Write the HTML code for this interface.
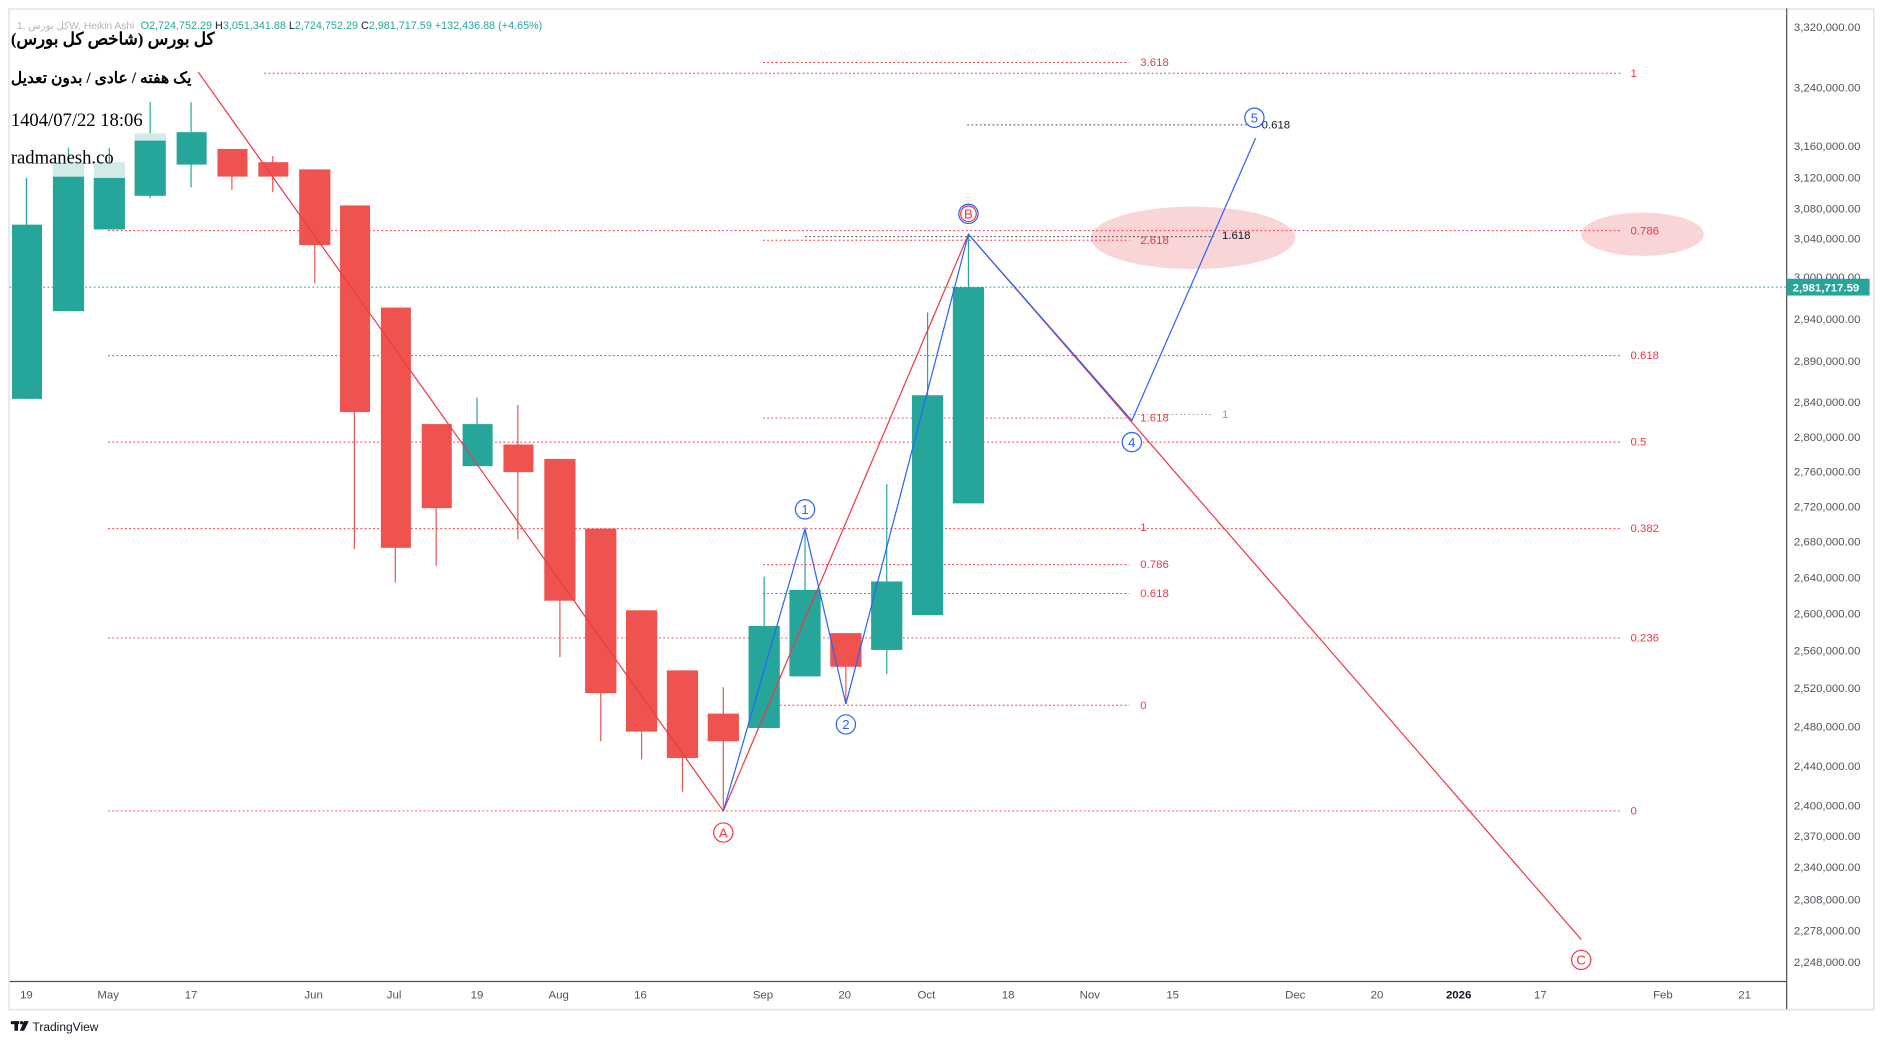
<!DOCTYPE html>
<html><head><meta charset="utf-8"><style>
html,body{margin:0;padding:0;background:#fff;width:1884px;height:1044px;overflow:hidden}
svg{display:block}
</style></head><body>
<svg width="1884" height="1044" viewBox="0 0 1568 869" preserveAspectRatio="none" xmlns="http://www.w3.org/2000/svg" font-family="Liberation Sans, DejaVu Sans, sans-serif">
<rect x="0" y="0" width="1568" height="869" fill="#fff"/>
<rect x="7.5" y="7.5" width="1552" height="833" fill="none" stroke="#e6e8ee" stroke-width="1.5"/>
<line x1="1487" y1="7" x2="1487" y2="840" stroke="#4a4e5a" stroke-width="1"/>
<line x1="8" y1="817" x2="1487" y2="817" stroke="#4a4e5a" stroke-width="1"/>

<ellipse cx="993" cy="198" rx="85" ry="26" fill="#f7c3c8" opacity="0.7"/>
<ellipse cx="1367" cy="195" rx="51" ry="18" fill="#f7c3c8" opacity="0.7"/>

<g stroke-dasharray="1.5,2" stroke-width="0.8" fill="none">
<line x1="220" y1="61" x2="1350" y2="61" stroke="#f23645"/>
<line x1="635" y1="52" x2="940" y2="52" stroke="#f23645"/>
<line x1="90" y1="192" x2="1350" y2="192" stroke="#f23645"/>
<line x1="635" y1="200" x2="940" y2="200" stroke="#f23645"/>
<line x1="670" y1="197" x2="1010" y2="197" stroke="#333"/>
<line x1="805" y1="104" x2="1045" y2="104" stroke="#333"/>
<line x1="8" y1="239" x2="1487" y2="239" stroke="#22a08e"/>
<line x1="90" y1="296" x2="1350" y2="296" stroke="#f23645"/>
<line x1="635" y1="348" x2="940" y2="348" stroke="#f23645"/>
<line x1="940" y1="345" x2="1010" y2="345" stroke="#aaa"/>
<line x1="90" y1="368" x2="1350" y2="368" stroke="#f23645"/>
<line x1="90" y1="440" x2="1350" y2="440" stroke="#f23645"/>
<line x1="635" y1="470" x2="940" y2="470" stroke="#f23645"/>
<line x1="635" y1="494" x2="940" y2="494" stroke="#f23645"/>
<line x1="90" y1="531" x2="1350" y2="531" stroke="#f23645"/>
<line x1="635" y1="587" x2="940" y2="587" stroke="#f23645"/>
<line x1="90" y1="675" x2="1350" y2="675" stroke="#f23645"/>
</g>
<g font-size="9.5" fill="#f23645">
<text x="949" y="55">3.618</text>
<text x="1357" y="64">1</text>
<text x="1357" y="195">0.786</text>
<text x="949" y="203">2.618</text>
<text x="1357" y="299">0.618</text>
<text x="949" y="351">1.618</text>
<text x="1357" y="371">0.5</text>
<text x="949" y="442">1</text>
<text x="1357" y="443">0.382</text>
<text x="949" y="473">0.786</text>
<text x="949" y="497">0.618</text>
<text x="1357" y="534">0.236</text>
<text x="949" y="590">0</text>
<text x="1357" y="678">0</text>
</g>
<text x="1050" y="107" font-size="9.5" fill="#131722">0.618</text>
<text x="1017" y="199" font-size="9.5" fill="#131722">1.618</text>
<text x="1017" y="348" font-size="9.5" fill="#999">1</text>

<g>
<line x1="22" y1="148" x2="22" y2="332" stroke="#26a69a"/><rect x="10" y="187" width="25" height="145" fill="#26a69a"/>
<line x1="57" y1="123" x2="57" y2="259" stroke="#26a69a"/><rect x="44" y="147" width="26" height="112" fill="#26a69a"/><rect x="44" y="135" width="26" height="12" fill="#d3ebe8"/>
<line x1="91" y1="123" x2="91" y2="191" stroke="#26a69a"/><rect x="78" y="148" width="26" height="43" fill="#26a69a"/><rect x="78" y="135" width="26" height="13" fill="#d3ebe8"/>
<line x1="125" y1="85" x2="125" y2="165" stroke="#26a69a"/><rect x="112" y="117" width="26" height="46" fill="#26a69a"/><rect x="112" y="111" width="26" height="6" fill="#d3ebe8"/>
<line x1="159" y1="85" x2="159" y2="156" stroke="#26a69a"/><rect x="147" y="110" width="25" height="27" fill="#26a69a"/>
<line x1="193" y1="124" x2="193" y2="158" stroke="#ef5350"/><rect x="181" y="124" width="25" height="23" fill="#ef5350"/>
<line x1="227" y1="130" x2="227" y2="160" stroke="#ef5350"/><rect x="215" y="135" width="25" height="12" fill="#ef5350"/>
<line x1="262" y1="141" x2="262" y2="236" stroke="#ef5350"/><rect x="249" y="141" width="26" height="63" fill="#ef5350"/>
<line x1="295" y1="171" x2="295" y2="457" stroke="#ef5350"/><rect x="283" y="171" width="25" height="172" fill="#ef5350"/>
<line x1="329" y1="256" x2="329" y2="485" stroke="#ef5350"/><rect x="317" y="256" width="25" height="200" fill="#ef5350"/>
<line x1="363" y1="353" x2="363" y2="471" stroke="#ef5350"/><rect x="351" y="353" width="25" height="70" fill="#ef5350"/>
<line x1="397" y1="331" x2="397" y2="388" stroke="#26a69a"/><rect x="385" y="353" width="25" height="35" fill="#26a69a"/>
<line x1="431" y1="337" x2="431" y2="449" stroke="#ef5350"/><rect x="419" y="370" width="25" height="23" fill="#ef5350"/>
<line x1="466" y1="382" x2="466" y2="547" stroke="#ef5350"/><rect x="453" y="382" width="26" height="118" fill="#ef5350"/>
<line x1="500" y1="440" x2="500" y2="617" stroke="#ef5350"/><rect x="487" y="440" width="26" height="137" fill="#ef5350"/>
<line x1="534" y1="508" x2="534" y2="632" stroke="#ef5350"/><rect x="521" y="508" width="26" height="101" fill="#ef5350"/>
<line x1="568" y1="558" x2="568" y2="659" stroke="#ef5350"/><rect x="555" y="558" width="26" height="73" fill="#ef5350"/>
<line x1="602" y1="572" x2="602" y2="675" stroke="#ef5350"/><rect x="589" y="594" width="26" height="23" fill="#ef5350"/>
<line x1="636" y1="480" x2="636" y2="606" stroke="#26a69a"/><rect x="623" y="521" width="26" height="85" fill="#26a69a"/>
<line x1="670" y1="440" x2="670" y2="563" stroke="#26a69a"/><rect x="657" y="491" width="26" height="72" fill="#26a69a"/>
<line x1="704" y1="527" x2="704" y2="586" stroke="#ef5350"/><rect x="691" y="527" width="26" height="28" fill="#ef5350"/>
<line x1="738" y1="403" x2="738" y2="561" stroke="#26a69a"/><rect x="725" y="484" width="26" height="57" fill="#26a69a"/>
<line x1="772" y1="260" x2="772" y2="512" stroke="#26a69a"/><rect x="759" y="329" width="26" height="183" fill="#26a69a"/>
<line x1="806" y1="195" x2="806" y2="419" stroke="#26a69a"/><rect x="793" y="239" width="26" height="180" fill="#26a69a"/>
</g>

<polyline points="165,60 602,675 806,195 1316,782" fill="none" stroke="#f23645" stroke-width="1"/>
<polyline points="602,675 670,440 704,586 806,195 942,350 1045,115" fill="none" stroke="#2962ff" stroke-width="1"/>

<g font-size="11" text-anchor="middle">
<circle cx="602" cy="693" r="8" fill="#fff" stroke="#f23645"/><text x="602" y="697" fill="#f23645">A</text>
<circle cx="670" cy="424" r="8" fill="#fff" stroke="#2962ff"/><text x="670" y="428" fill="#2962ff">1</text>
<circle cx="704" cy="603" r="8" fill="#fff" stroke="#2962ff"/><text x="704" y="607" fill="#2962ff">2</text>
<circle cx="806" cy="178" r="8" fill="#fff" stroke="#2962ff"/><circle cx="806" cy="178" r="6.5" fill="none" stroke="#f23645"/><text x="806" y="182" fill="#f23645">B</text>
<circle cx="942" cy="368" r="8" fill="#fff" stroke="#2962ff"/><text x="942" y="372" fill="#2962ff">4</text>
<circle cx="1044" cy="98" r="8" fill="#fff" stroke="#2962ff"/><text x="1044" y="102" fill="#2962ff">5</text>
<circle cx="1316" cy="799" r="8" fill="#fff" stroke="#f23645"/><text x="1316" y="803" fill="#f23645">C</text>
</g>

<text x="14" y="24" font-size="8.5" fill="#b2b5be">کل بورس ,1W, Heikin Ashi</text>
<text x="117" y="24" font-size="9" fill="#26a69a">O2,724,752.29 <tspan fill="#131722">H</tspan>3,051,341.88 <tspan fill="#131722">L</tspan>2,724,752.29 <tspan fill="#131722">C</tspan>2,981,717.59 +132,436.88 (+4.65%)</text>
<text x="9" y="37" font-size="14" fill="#000" style="font-family:'Liberation Serif','Noto Serif CJK SC',serif;font-weight:bold">کل بورس (شاخص کل بورس)</text>
<text x="9" y="69" font-size="13" fill="#000" style="font-family:'Liberation Serif','Noto Serif CJK SC',serif;font-weight:bold">یک هفته / عادی / بدون تعدیل</text>
<text x="9" y="105" font-size="15.5" fill="#000" style="font-family:'Liberation Serif',serif">1404/07/22 18:06</text>
<text x="9" y="136" font-size="15.5" fill="#000" style="font-family:'Liberation Serif',serif">radmanesh.co</text>

<g font-size="9.5" fill="#50535e">
<text x="1493" y="26">3,320,000.00</text>
<text x="1493" y="76">3,240,000.00</text>
<text x="1493" y="125">3,160,000.00</text>
<text x="1493" y="151">3,120,000.00</text>
<text x="1493" y="177">3,080,000.00</text>
<text x="1493" y="202">3,040,000.00</text>
<text x="1493" y="234">3,000,000.00</text>
<text x="1493" y="269">2,940,000.00</text>
<text x="1493" y="304">2,890,000.00</text>
<text x="1493" y="338">2,840,000.00</text>
<text x="1493" y="367">2,800,000.00</text>
<text x="1493" y="396">2,760,000.00</text>
<text x="1493" y="425">2,720,000.00</text>
<text x="1493" y="454">2,680,000.00</text>
<text x="1493" y="484">2,640,000.00</text>
<text x="1493" y="514">2,600,000.00</text>
<text x="1493" y="545">2,560,000.00</text>
<text x="1493" y="576">2,520,000.00</text>
<text x="1493" y="608">2,480,000.00</text>
<text x="1493" y="641">2,440,000.00</text>
<text x="1493" y="674">2,400,000.00</text>
<text x="1493" y="699">2,370,000.00</text>
<text x="1493" y="725">2,340,000.00</text>
<text x="1493" y="752">2,308,000.00</text>
<text x="1493" y="778">2,278,000.00</text>
<text x="1493" y="804">2,248,000.00</text>
</g>
<rect x="1487" y="232" width="69" height="14" fill="#26a69a"/>
<text x="1492" y="242.5" font-size="9.5" font-weight="bold" fill="#fff">2,981,717.59</text>

<g font-size="9.5" fill="#50535e" text-anchor="middle">
<text x="22" y="831">19</text><text x="90" y="831">May</text><text x="159" y="831">17</text>
<text x="261" y="831">Jun</text><text x="328" y="831">Jul</text><text x="397" y="831">19</text>
<text x="465" y="831">Aug</text><text x="533" y="831">16</text><text x="635" y="831">Sep</text>
<text x="703" y="831">20</text><text x="771" y="831">Oct</text><text x="839" y="831">18</text>
<text x="907" y="831">Nov</text><text x="976" y="831">15</text><text x="1078" y="831">Dec</text>
<text x="1146" y="831">20</text><text x="1214" y="831" font-weight="bold" fill="#131722">2026</text>
<text x="1282" y="831">17</text><text x="1384" y="831">Feb</text><text x="1452" y="831">21</text>
</g>

<g fill="#131722">
<rect x="9" y="850" width="7" height="2.5"/><rect x="12" y="850" width="3" height="8"/>
<circle cx="18" cy="851.3" r="1.4"/><polygon points="20,850 24,850 20,858 16.5,858"/>
</g>
<text x="27" y="858" font-size="10" fill="#131722">TradingView</text>
</svg>
</body></html>
